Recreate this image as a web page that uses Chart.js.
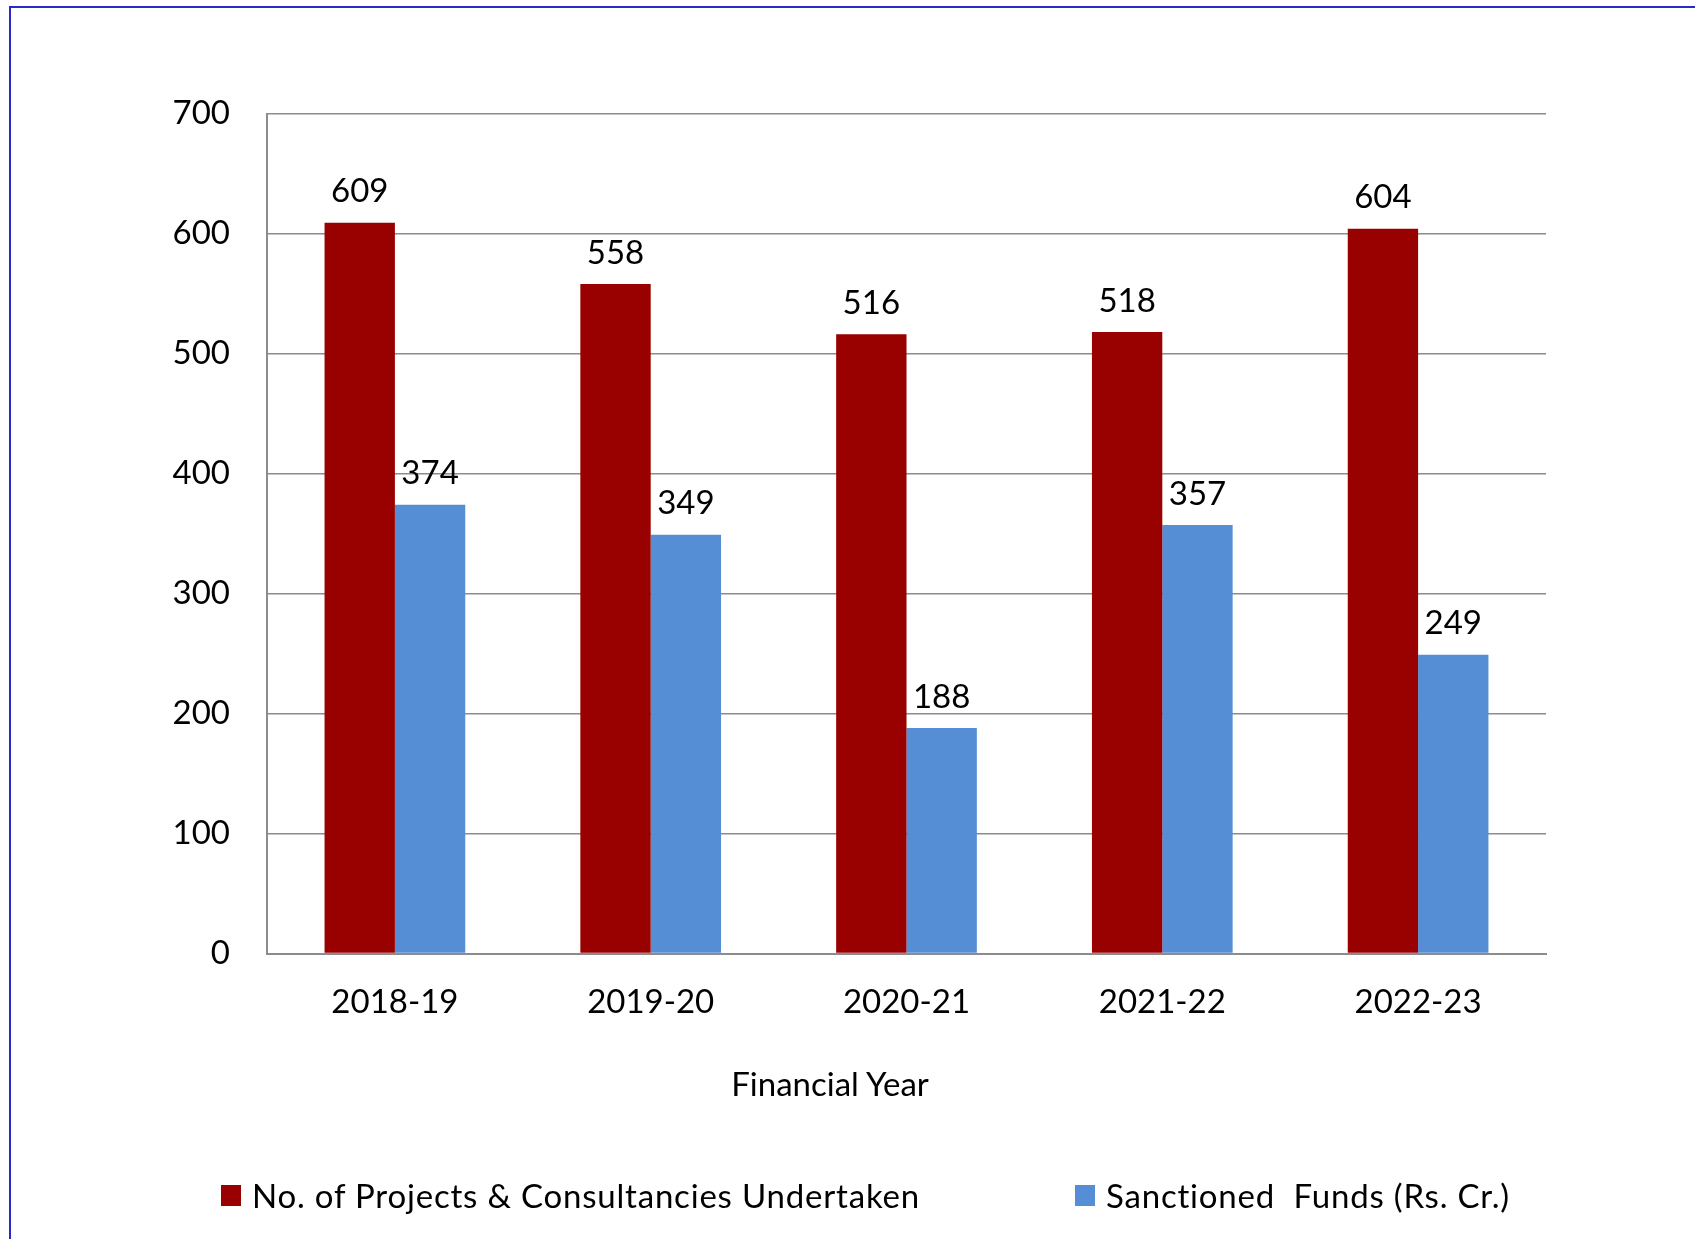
<!DOCTYPE html>
<html>
<head>
<meta charset="utf-8">
<script src="https://cdn.jsdelivr.net/npm/chart.js@4/dist/chart.umd.min.js"></script>
<style>
  html, body { margin: 0; padding: 0; background: #fff; }
  body { width: 1695px; height: 1239px; position: relative; overflow: hidden; font-family: Lato, "Open Sans", sans-serif; }
  #frame { position: absolute; left: 9px; top: 6px; right: -10px; bottom: -10px; border-left: 2px solid #2a2ac8; border-top: 2px solid #2a2ac8; }
  #wrap { position: absolute; left: 0; top: 0; width: 1695px; height: 1239px; }
  #xtitle { position: absolute; left: 830px; top: 1083px; transform: translate(-50%, -50%); font-size: 33px; color: #000; white-space: nowrap; }
  .leg { position: absolute; top: 1195px; transform: translateY(-50%); display: flex; align-items: center; font-size: 33px; letter-spacing: 0.8px; color: #000; white-space: pre; }
  .leg i { display: inline-block; width: 20px; height: 21px; margin-right: 11px; }
</style>
</head>
<body>
<div id="frame"></div>
<div id="wrap"><canvas id="chart" width="1695" height="1239"></canvas></div>
<div id="xtitle">Financial Year</div>
<div id="legend"></div>
<script>
// values
var years = ['2018-19', '2019-20', '2020-21', '2021-22', '2022-23'];
var projects = [609, 558, 516, 518, 604];
var funds = [374, 349, 188, 357, 249];
var seriesNames = ['No. of Projects & Consultancies Undertaken', 'Sanctioned  Funds (Rs. Cr.)'];
var yMax = 700;
var yStep = 100;

var FONT = 'Lato, "Open Sans", sans-serif';

// value labels above each bar
var barLabels = {
    id: 'barLabels',
    afterDatasetsDraw: function(chart) {
        var ctx = chart.ctx;
        ctx.save();
        ctx.font = '33px ' + FONT;
        ctx.fillStyle = '#000';
        ctx.textAlign = 'center';
        ctx.textBaseline = 'middle';
        chart.data.datasets.forEach(function(ds, i) {
            chart.getDatasetMeta(i).data.forEach(function(bar, j) {
                ctx.fillText(ds.data[j], bar.x, bar.y - 31);
            });
        });
        ctx.restore();
    }
};

var ctx = document.getElementById('chart');
var chart = new Chart(ctx, {
    type: 'bar',
    data: {
        labels: years,
        datasets: [{
            label: seriesNames[0],
            data: projects,
            backgroundColor: '#990000',
            categoryPercentage: 0.55,
            barPercentage: 1.0,
        }, {
            label: seriesNames[1],
            data: funds,
            backgroundColor: '#558ed5',
            categoryPercentage: 0.55,
            barPercentage: 1.0,
        }]
    },
    options: {
        responsive: false,
        animation: false,
        layout: { padding: { left: 0, right: 149, top: 113.5, bottom: 205.5 } },
        plugins: {
            legend: { display: false },
            tooltip: { enabled: false },
        },
        scales: {
            x: {
                grid: { display: false, drawTicks: false },
                border: { display: true, color: '#8c8c8c', width: 2 },
                ticks: { color: '#000', font: { family: FONT, size: 33 }, padding: 29, maxRotation: 0 },
                afterFit: function(scale) { scale.height = 80; }
            },
            y: {
                min: 0,
                max: yMax,
                grid: { color: '#8c8c8c', lineWidth: 1.5, drawTicks: false },
                border: { display: true, color: '#8c8c8c', width: 2 },
                ticks: { stepSize: yStep, color: '#000', font: { family: FONT, size: 33 }, padding: 37 },
                afterFit: function(scale) { scale.width = 267; }
            }
        }
    },
    plugins: [barLabels]
});

// legend built from the chart's datasets
var legendLeft = [221, 1075];
var legend = document.getElementById('legend');
chart.data.datasets.forEach(function(ds, i) {
    var item = document.createElement('div');
    item.className = 'leg';
    item.style.left = legendLeft[i] + 'px';
    item.innerHTML = '<i style="background:' + ds.backgroundColor + '"></i><span></span>';
    item.querySelector('span').textContent = ds.label;
    legend.appendChild(item);
});
</script>
</body>
</html>
